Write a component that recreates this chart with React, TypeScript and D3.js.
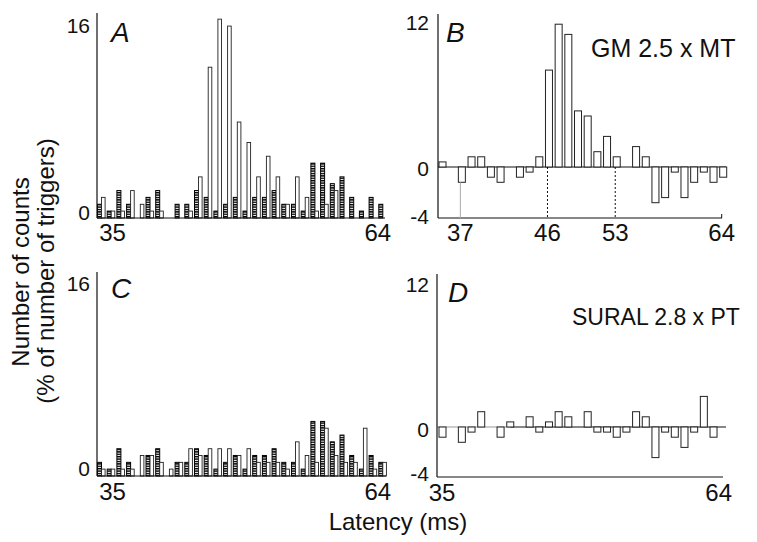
import React from 'react';
import * as d3 from 'd3';

const latency = [35, 36, 37, 38, 39, 40, 41, 42, 43, 44, 45, 46, 47, 48, 49, 50, 51, 52, 53, 54, 55, 56, 57, 58, 59, 60, 61, 62, 63, 64];
// % of number of triggers, control (hatched) bars, shared by A and C
const controlPct = [1.07, 0.54, 2.14, 1.07, 0, 1.61, 2.14, 0, 1.07, 1.07, 2.14, 1.61, 0.54, 1.07, 1.61, 0.54, 1.61, 1.61, 2.14, 1.07, 1.07, 0.54, 4.28, 4.28, 2.68, 3.21, 1.61, 0.54, 1.61, 1.07];
// GM 2.5 x MT conditioned (open bars, panel A)
const gmPct = [1.61, 0.54, 0.54, 2.14, 1.07, 0.54, 0.54, 0, 0, 0.54, 3.21, 11.77, 15.52, 14.98, 7.49, 5.89, 3.21, 4.82, 3.21, 1.07, 3.21, 1.61, 0.54, 1.07, 2.14, 0, 0, 0, 0, 0];
// SURAL 2.8 x PT conditioned (open bars, panel C)
const suralPct = [0.54, 0.54, 0.54, 0.54, 1.61, 1.61, 1.07, 0.54, 1.07, 2.14, 1.61, 2.14, 2.14, 2.14, 1.61, 2.14, 1.07, 1.07, 1.07, 0.54, 2.68, 1.61, 1.07, 3.75, 1.61, 1.07, 1.07, 3.75, 0.54, 1.07];
// difference histograms
const gmDiff = [0.4, 0, -1.2, 0.8, 0.8, -0.8, -1.2, 0, -0.8, -0.4, 0.8, 7.6, 11.2, 10.4, 4.4, 4.0, 1.2, 2.4, 0.8, 0, 1.6, 0.8, -2.8, -2.4, -0.4, -2.4, -1.2, -0.4, -1.2, -0.8];
const suralDiff = [-0.8, 0, -1.2, -0.4, 1.2, 0, -0.8, 0.4, 0, 0.8, -0.4, 0.4, 1.2, 0.8, 0, 1.2, -0.4, -0.4, -0.8, -0.4, 1.2, 0.8, -2.4, -0.4, -0.8, -1.6, -0.4, 2.4, -0.8, 0];

const ticksA = ['35', '64'];
const ticksB = [37, 46, 53, 64];
const dottedB = [46, 53];
const yTicksAC = ['16', '0'];
const yTicksBD = ['12', '0', '-4'];

const FONT = '"Liberation Sans", Arial, Helvetica, sans-serif';

export default function App() {
  const W = 757, H = 542;
  const xAC = d3.scaleLinear().domain([35, 64]).range([97.5, 378.8]);
  const xBD = d3.scaleLinear().domain([35, 64]).range([439, 719.7]);
  const yA = d3.scaleLinear().domain([0, 16]).range([218, 13]);
  const yC = d3.scaleLinear().domain([0, 16]).range([476, 272]);
  const yB = d3.scaleLinear().domain([-4, 12]).range([218, 14]);
  const yD = d3.scaleLinear().domain([-4, 12]).range([478, 274]);

  const pairBars = (y: d3.ScaleLinear<number, number>, test: number[], key: string) => (
    <g key={key}>
      {latency.map((v, i) => controlPct[i] > 0 ? (
        <rect key={'c' + i} x={xAC(v)} y={y(controlPct[i])} width={4} height={y(0) - y(controlPct[i])}
          fill="url(#hatch)" stroke="#000" strokeWidth={1} />
      ) : null)}
      {latency.map((v, i) => test[i] > 0 ? (
        <rect key={'t' + i} x={xAC(v) + 4} y={y(test[i])} width={3.6} height={y(0) - y(test[i])}
          fill="#fff" stroke="#222" strokeWidth={0.9} />
      ) : null)}
    </g>
  );

  const diffBars = (y: d3.ScaleLinear<number, number>, vals: number[], key: string) => (
    <g key={key}>
      {latency.map((v, i) => vals[i] !== 0 ? (
        <rect key={i} x={xBD(v)} y={Math.min(y(vals[i]), y(0))} width={7} height={Math.abs(y(vals[i]) - y(0))}
          fill="#fff" stroke="#222" strokeWidth={1} />
      ) : null)}
    </g>
  );

  const txt = (x: number, y: number, s: string, size: number, anchor: string, extra: any = {}) => (
    <text x={x} y={y} fontSize={size} textAnchor={anchor} fontFamily={FONT} fill="#111" {...extra}>{s}</text>
  );

  return (
    <svg width={W} height={H} style={{ position: 'absolute', left: 0, top: 0, background: '#fff' }}>
      <defs>
        <pattern id="hatch" width={4} height={2.4} patternUnits="userSpaceOnUse">
          <rect width={4} height={2.4} fill="#fff" />
          <rect width={4} height={1.4} fill="#000" />
        </pattern>
      </defs>
      <rect width={W} height={H} fill="#fff" />

      {/* Panel A */}
      {pairBars(yA, gmPct, 'A')}
      <line x1={97} x2={97} y1={yA(16)} y2={yA(0)} stroke="#111" strokeWidth={1.2} />
      <line x1={97} x2={385} y1={yA(0)} y2={yA(0)} stroke="#111" strokeWidth={1.2} />
      {txt(90, 33, yTicksAC[0], 21, 'end')}
      {txt(90, 220, yTicksAC[1], 21, 'end')}
      {txt(xAC(35) + 15, 241, ticksA[0], 24, 'middle')}
      {txt(xAC(64) - 1, 241, ticksA[1], 24, 'middle')}
      {txt(111, 42, 'A', 28, 'start', { fontStyle: 'italic' })}

      {/* Panel B */}
      <line x1={438} x2={726} y1={yB(0)} y2={yB(0)} stroke="#111" strokeWidth={1} />
      {diffBars(yB, gmDiff, 'B')}
      <line x1={438} x2={438} y1={yB(12)} y2={yB(-4)} stroke="#111" strokeWidth={1.2} />
      <line x1={438} x2={722} y1={yB(-4)} y2={yB(-4)} stroke="#111" strokeWidth={1.2} />
      <line x1={xBD(64) + 2} x2={xBD(64) + 2} y1={yB(-4) - 4} y2={yB(-4)} stroke="#111" strokeWidth={1} />
      <line x1={xBD(37) + 2} x2={xBD(37) + 2} y1={yB(gmDiff[2])} y2={yB(-4)} stroke="#aaa" strokeWidth={1} />
      {dottedB.map(v => (
        <line key={v} x1={xBD(v) + 2} x2={xBD(v) + 2} y1={yB(0)} y2={yB(-4)} stroke="#111" strokeWidth={1} strokeDasharray="2,2" />
      ))}
      {txt(429, 30, yTicksBD[0], 21, 'end')}
      {txt(429, 176, yTicksBD[1], 21, 'end')}
      {txt(429, 224, yTicksBD[2], 21, 'end')}
      {ticksB.map(v => <g key={v}>{txt(xBD(v) + 2, 241, String(v), 24, 'middle')}</g>)}
      {txt(446, 42, 'B', 28, 'start', { fontStyle: 'italic' })}
      {txt(591, 57, 'GM 2.5 x MT', 25, 'start')}

      {/* Panel C */}
      {pairBars(yC, suralPct, 'C')}
      <line x1={97} x2={97} y1={yC(16)} y2={yC(0)} stroke="#111" strokeWidth={1.2} />
      <line x1={97} x2={386} y1={yC(0)} y2={yC(0)} stroke="#111" strokeWidth={1.2} />
      {txt(90, 291, yTicksAC[0], 21, 'end')}
      {txt(90, 476, yTicksAC[1], 21, 'end')}
      {txt(xAC(35) + 15, 500, ticksA[0], 24, 'middle')}
      {txt(xAC(64) - 1, 500, ticksA[1], 24, 'middle')}
      {txt(111, 298, 'C', 28, 'start', { fontStyle: 'italic' })}

      {/* Panel D */}
      <line x1={437} x2={510} y1={yD(0)} y2={yD(0)} stroke="#999" strokeWidth={1} />
      <line x1={510} x2={726} y1={yD(0)} y2={yD(0)} stroke="#111" strokeWidth={1} />
      {diffBars(yD, suralDiff, 'D')}
      <line x1={437} x2={437} y1={yD(12)} y2={yD(-4) - 1} stroke="#111" strokeWidth={1.2} />
      <line x1={437} x2={723} y1={yD(-4) - 1} y2={yD(-4) - 1} stroke="#111" strokeWidth={1.2} />
      {txt(429, 292, yTicksBD[0], 21, 'end')}
      {txt(429, 437, yTicksBD[1], 21, 'end')}
      {txt(429, 481, yTicksBD[2], 21, 'end')}
      {txt(xBD(35) + 3, 501, ticksA[0], 24, 'middle')}
      {txt(xBD(64) - 1, 501, ticksA[1], 24, 'middle')}
      {txt(448, 302, 'D', 28, 'start', { fontStyle: 'italic' })}
      {txt(572, 325, 'SURAL 2.8 x PT', 23, 'start')}

      {/* Axis titles */}
      {txt(0, 0, 'Number of counts', 24, 'middle', { transform: 'translate(29,272) rotate(-90)' })}
      {txt(0, 0, '(% of number of triggers)', 24, 'middle', { transform: 'translate(54,271) rotate(-90)' })}
      {txt(398, 530, 'Latency (ms)', 24, 'middle')}
    </svg>
  );
}
